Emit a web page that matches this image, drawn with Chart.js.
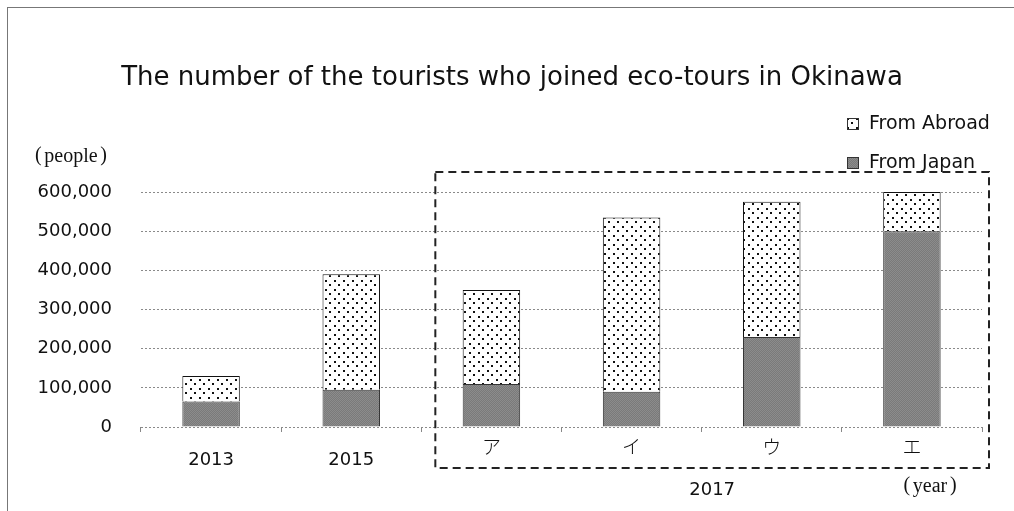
<!DOCTYPE html>
<html>
<head>
<meta charset="utf-8">
<script src="https://cdn.jsdelivr.net/npm/chart.js@4.4.0/dist/chart.umd.min.js"></script>
<style>
  html, body { margin: 0; padding: 0; background: #fff; }
  #wrap { position: relative; width: 1014px; height: 511px; overflow: hidden; }
  #frame { position: absolute; left: 7px; top: 7px; right: -2px; bottom: -2px; border-left: 1px solid #777; border-top: 1px solid #777; pointer-events: none; }
  canvas { position: absolute; left: 0; top: 0; }
</style>
</head>
<body>
<div id="wrap">
  <canvas id="tourists" width="1014" height="511"></canvas>
  <div id="frame"></div>
</div>
<script>
var title = "The number of the tourists who joined eco-tours in Okinawa";
var categories = ["2013", "2015", "ア", "イ", "ウ", "エ"];
var fromJapan = [65000, 95000, 110000, 90000, 230000, 500000];
var fromAbroad = [65000, 295000, 240000, 445000, 345000, 100000];
var yTicks = [0, 100000, 200000, 300000, 400000, 500000, 600000];
var groupLabel = "2017";
var yUnit = "people";
var xUnit = "year";

var canvas = document.getElementById("tourists");
var ctx = canvas.getContext("2d");

function dotPattern() {
  var c = document.createElement("canvas");
  c.width = 9; c.height = 9;
  var g = c.getContext("2d");
  g.fillStyle = "#fff";
  g.fillRect(0, 0, 9, 9);
  g.fillStyle = "#111";
  g.fillRect(1, 1, 2, 2);
  g.fillRect(5, 5, 2, 2);
  return ctx.createPattern(c, "repeat");
}

function grayPattern() {
  var c = document.createElement("canvas");
  c.width = 2; c.height = 2;
  var g = c.getContext("2d");
  g.fillStyle = "#7a7a7a";
  g.fillRect(0, 0, 2, 2);
  g.fillStyle = "#8c8c8c";
  g.fillRect(0, 0, 1, 1);
  g.fillRect(1, 1, 1, 1);
  return ctx.createPattern(c, "repeat");
}

var abroadFill = dotPattern();
var japanFill = grayPattern();

// parenteses largos desenhados em volta da palavra
function unitText(c, word, cx, cy) {
  c.font = "20px 'Liberation Serif'";
  var w = c.measureText(word).width;
  c.textAlign = "center";
  c.fillText(word, cx, cy);
  c.fillText("(", cx - w / 2 - 6, cy - 1);
  c.fillText(")", cx + w / 2 + 6, cy - 1);
}

// textos extras: titulo, legenda, caixa tracejada de 2017
var extras = {
  id: "extras",
  afterDraw: function (chart) {
    var c = chart.ctx;
    var x = chart.scales.x;
    var y = chart.scales.y;
    var area = chart.chartArea;
    c.save();
    c.fillStyle = "#111";
    c.textAlign = "center";
    c.textBaseline = "middle";
    c.font = "26px 'DejaVu Sans'";
    c.fillText(title, 512, 78);

    // legenda
    var items = [chart.data.datasets[1], chart.data.datasets[0]];
    var ly = [124, 163];
    c.textAlign = "left";
    c.font = "19px 'DejaVu Sans'";
    items.forEach(function (ds, i) {
      c.fillStyle = ds.backgroundColor;
      c.fillRect(847, ly[i] - 6, 12, 12);
      c.strokeStyle = "#333";
      c.lineWidth = 1;
      c.strokeRect(847.5, ly[i] - 5.5, 11, 11);
      c.fillStyle = "#111";
      c.fillText(ds.label, 869, ly[i]);
    });

    unitText(c, yUnit, 71, 157);
    unitText(c, xUnit, 930, 487);

    // caixa tracejada
    var left = (x.getPixelForValue(1) + x.getPixelForValue(2)) / 2 + 14;
    var right = area.right + 7;
    var top = y.getPixelForValue(600000) - 20;
    var bottom = area.bottom + 41;
    c.strokeStyle = "#222";
    c.lineWidth = 2;
    c.setLineDash([8, 5]);
    c.strokeRect(left, top, right - left, bottom - top);
    c.setLineDash([]);

    c.textAlign = "center";
    c.font = "18px 'DejaVu Sans'";
    c.fillText(groupLabel, (left + right) / 2, 490);
    c.restore();
  }
};

new Chart(canvas, {
  type: "bar",
  data: {
    labels: categories,
    datasets: [
      {
        label: "From Japan",
        data: fromJapan,
        backgroundColor: japanFill,
        borderColor: "#333",
        borderWidth: 1,
      },
      {
        label: "From Abroad",
        data: fromAbroad,
        backgroundColor: abroadFill,
        borderColor: "#111",
        borderWidth: 1,
      },
    ],
  },
  options: {
    responsive: false,
    animation: false,
    layout: {
      padding: { top: 192, right: 32, bottom: 0, left: 0 },
    },
    datasets: {
      bar: {
        barPercentage: 0.41,
        categoryPercentage: 1,
      },
    },
    plugins: {
      legend: { display: false },
      tooltip: { enabled: false },
    },
    scales: {
      x: {
        stacked: true,
        afterFit: function (scale) { scale.height = 84; },
        grid: {
          display: true,
          drawOnChartArea: false,
          drawTicks: true,
          tickLength: 5,
          color: "#888",
          offset: true,
        },
        border: { display: false },
        ticks: {
          color: "#111",
          padding: 3,
          font: function (context) {
            if (context.index < 2) {
              return { family: "'DejaVu Sans'", size: 18, lineHeight: "50px" };
            }
            return { family: "'Noto Sans CJK JP'", size: 19, weight: 300, lineHeight: "24px" };
          },
        },
      },
      y: {
        stacked: true,
        min: 0,
        max: 600000,
        afterFit: function (scale) { scale.width = 141; },
        afterBuildTicks: function (scale) {
          scale.ticks = yTicks.map(function (v) { return { value: v }; });
        },
        grid: {
          color: "#8a8a8a",
          lineWidth: 1,
          drawTicks: false,
        },
        border: { display: false, dash: [2, 2] },
        ticks: {
          color: "#111",
          padding: 29,
          font: { family: "'DejaVu Sans'", size: 18 },
          callback: function (v) { return v.toLocaleString("en-US"); },
        },
      },
    },
  },
  plugins: [extras],
});
</script>
</body>
</html>
